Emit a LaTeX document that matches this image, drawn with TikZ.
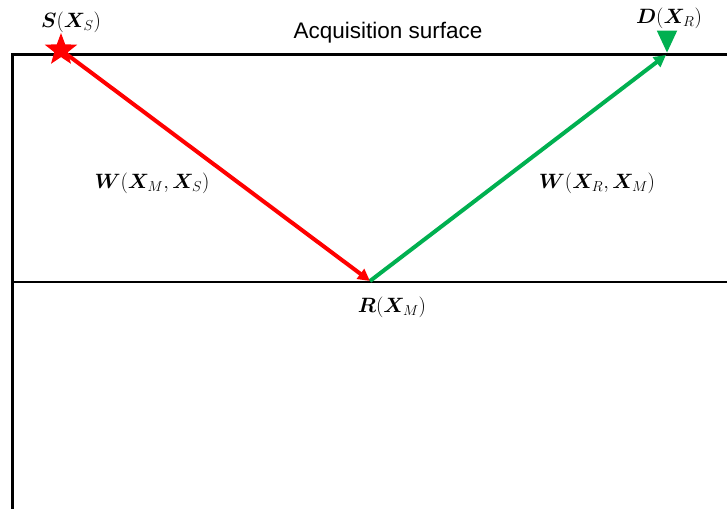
\documentclass[tikz,border=0pt]{standalone}
\usepackage{amsmath,bm}
\usepackage{fontspec}
\setmainfont{Liberation Sans}
\usetikzlibrary{arrows.meta,shapes.geometric}
\definecolor{myred}{RGB}{255,0,0}
\definecolor{mygreen}{RGB}{0,176,80}
\tikzset{
  frame/.style={line width=3pt,black},
  layer/.style={line width=2pt,black},
  ray/.style={line width=4pt,-{Triangle[length=12pt,width=12pt]}},
  mlabel/.style={inner sep=0pt,font=\fontsize{20.5}{24}\selectfont},
}
\begin{document}
\begin{tikzpicture}[x=1pt,y=-1pt]
\useasboundingbox (0,0) rectangle (727,508);
% frame
\coordinate (bl) at (12,510);
\coordinate (tl) at (12,54.5);
\coordinate (tr) at (727,54.5);
\coordinate (ml) at (12,282);
\coordinate (mr) at (727,282);
\draw[frame] (bl) -- (tl) -- (tr);
\draw[layer] (ml) -- (mr);
% points
\coordinate (S) at (61,50);
\coordinate (M) at (370,281);
\coordinate (D) at (666,55);
\draw[ray,myred] (S) -- (M);
\draw[ray,mygreen] (M) -- (D);
\node[star,star points=5,star point ratio=2.4,fill=myred,minimum size=34pt,inner sep=0pt] (star) at (S) {};
\node[isosceles triangle,isosceles triangle apex angle=50,shape border rotate=-90,fill=mygreen,minimum height=22pt,inner sep=0pt,anchor=apex] (tri) at (667,53) {};
% labels
\node (acq) at (388,33) {\fontsize{22.5}{26}\selectfont Acquisition surface};
\node[mlabel] (ls) at (71,22) {$\bm{S}(\bm{X}_{S})$};
\node[mlabel] (ld) at (669,18) {$\bm{D}(\bm{X}_{R})$};
\node[mlabel] (lr) at (392,307) {$\bm{R}(\bm{X}_{M})$};
\node[mlabel] (lw1) at (152,183) {$\bm{W}(\bm{X}_{M},\bm{X}_{S})$};
\node[mlabel] (lw2) at (597,183) {$\bm{W}(\bm{X}_{R},\bm{X}_{M})$};
\end{tikzpicture}
\end{document}
